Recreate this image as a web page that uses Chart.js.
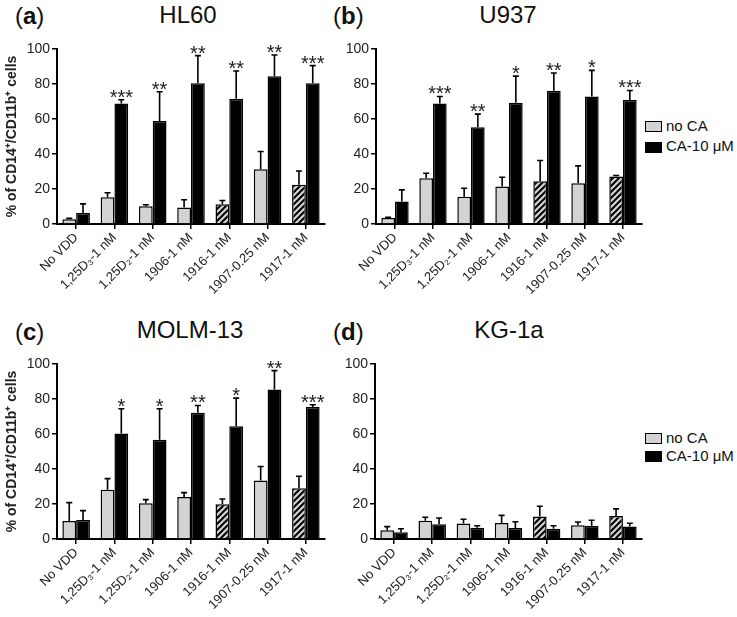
<!DOCTYPE html>
<html>
<head>
<meta charset="utf-8">
<script src="https://cdn.jsdelivr.net/npm/chart.js@4.4.1/dist/chart.umd.min.js"></script>
<style>
  body { margin: 0; width: 737px; height: 617px; overflow: hidden; background: #fff; font-family: "Liberation Sans", Arial, sans-serif; color: #111; }
  canvas { position: absolute; }
  .lbl { position: absolute; font-size: 24px; line-height: 24px; white-space: nowrap; }
  .ttl { position: absolute; font-size: 24px; line-height: 24px; width: 200px; text-align: center; }
  .box { position: absolute; width: 15px; height: 9px; border: 1.5px solid #000; }
  .leg { position: absolute; font-size: 15px; line-height: 16px; white-space: nowrap; }
</style>
</head>
<body>
<div class="lbl" style="left:15px;top:4px">(<b>a</b>)</div>
<div class="ttl" style="left:88px;top:3px">HL60</div>
<div class="lbl" style="left:333px;top:4px">(<b>b</b>)</div>
<div class="ttl" style="left:408px;top:3px">U937</div>
<div class="lbl" style="left:15px;top:320px">(<b>c</b>)</div>
<div class="ttl" style="left:90px;top:318px">MOLM-13</div>
<div class="lbl" style="left:333px;top:320px">(<b>d</b>)</div>
<div class="ttl" style="left:409px;top:318px">KG-1a</div>

<div class="box" style="left:645px;top:121px;background:#d3d3d3"></div>
<div class="leg" style="left:666px;top:118px">no CA</div>
<div class="box" style="left:645px;top:142px;background:#000"></div>
<div class="leg" style="left:666px;top:138px">CA-10 μM</div>
<div class="box" style="left:645px;top:433px;background:#d3d3d3"></div>
<div class="leg" style="left:666px;top:430px">no CA</div>
<div class="box" style="left:645px;top:451px;background:#000"></div>
<div class="leg" style="left:666px;top:448px">CA-10 μM</div>

<canvas id="cA" width="335" height="272" style="left:0;top:30px"></canvas>
<canvas id="cB" width="320" height="272" style="left:335px;top:30px"></canvas>
<canvas id="cC" width="335" height="272" style="left:0;top:345px"></canvas>
<canvas id="cD" width="320" height="272" style="left:335px;top:345px"></canvas>

<script>
// categories (x axis)
const categories = ['No VDD', '1,25D₃-1 nM', '1,25D₂-1 nM', '1906-1 nM', '1916-1 nM', '1907-0.25 nM', '1917-1 nM'];
const hatched = [false, false, false, false, true, false, true];
const yTicks = [0, 20, 40, 60, 80, 100];

// HL60
const hl60NoCA = [2.7, 15.3, 10.1, 9.5, 11.3, 31.3, 22.5];
const hl60NoCAErr = [0.5, 2.6, 0.9, 4.4, 2.1, 10.1, 7.8];
const hl60CA = [6.3, 68.9, 58.8, 80.5, 71.6, 84.5, 80.5];
const hl60CAErr = [5.2, 2.1, 16.8, 15.7, 15.8, 12.1, 10.0];
const hl60Stars = ['', '***', '**', '**', '**', '**', '***'];

// U937
const u937NoCA = [3.4, 26.1, 15.6, 21.4, 24.4, 23.3, 27.1];
const u937NoCAErr = [0.4, 2.9, 4.8, 5.3, 11.9, 9.9, 0.6];
const u937CA = [12.8, 68.9, 55.3, 69.3, 76.1, 72.9, 70.8];
const u937CAErr = [6.7, 4.0, 7.5, 15.2, 10.2, 14.9, 5.5];
const u937Stars = ['', '***', '**', '*', '**', '*', '***'];

// MOLM-13
const molmNoCA = [10.3, 28.2, 20.4, 24.0, 19.8, 33.4, 29.0];
const molmNoCAErr = [10.5, 6.3, 2.1, 2.5, 3.1, 8.0, 6.9];
const molmCA = [10.9, 60.3, 56.7, 72.1, 64.5, 85.5, 75.4];
const molmCAErr = [5.3, 14.1, 17.7, 4.2, 16.0, 10.7, 1.3];
const molmStars = ['', '*', '*', '**', '*', '**', '***'];

// KG-1a
const kgNoCA = [5.0, 10.5, 8.8, 9.2, 12.8, 7.8, 13.2];
const kgNoCAErr = [2.1, 1.9, 2.5, 4.3, 5.9, 1.9, 4.0];
const kgCA = [3.8, 8.4, 6.5, 6.3, 5.9, 7.6, 7.1];
const kgCAErr = [2.1, 3.6, 1.1, 3.6, 1.7, 3.1, 1.9];
const kgStars = ['', '', '', '', '', '', ''];

const GRAY = '#d3d3d3';

// hatch pattern for the 1916 / 1917 bars
function makeHatch() {
    const c = document.createElement('canvas');
    c.width = 6; c.height = 6;
    const g = c.getContext('2d');
    g.fillStyle = GRAY;
    g.fillRect(0, 0, 6, 6);
    g.strokeStyle = '#000';
    g.lineWidth = 2;
    g.beginPath();
    g.moveTo(-1, 7); g.lineTo(7, -1);
    g.moveTo(-4, 4); g.lineTo(4, -4);
    g.moveTo(2, 10); g.lineTo(10, 2);
    g.stroke();
    return g.createPattern(c, 'repeat');
}
const hatch = makeHatch();

// error bars (upper only) and significance stars
const errStarPlugin = {
    id: 'errStar',
    afterDatasetsDraw(chart) {
        const ctx = chart.ctx;
        const y = chart.scales.y;
        ctx.save();
        ctx.strokeStyle = '#000';
        ctx.lineWidth = 1.6;
        chart.data.datasets.forEach((ds, di) => {
            const meta = chart.getDatasetMeta(di);
            meta.data.forEach((bar, i) => {
                const top = y.getPixelForValue(ds.data[i] + ds.err[i]);
                ctx.beginPath();
                ctx.moveTo(bar.x, bar.y);
                ctx.lineTo(bar.x, top);
                ctx.moveTo(bar.x - 3, top);
                ctx.lineTo(bar.x + 3, top);
                ctx.stroke();
                if (ds.stars && ds.stars[i]) {
                    ctx.fillStyle = '#222';
                    ctx.font = '20px "Liberation Sans", Arial, sans-serif';
                    ctx.textAlign = 'center';
                    ctx.textBaseline = 'alphabetic';
                    ctx.fillText(ds.stars[i], bar.x, top + 4);
                }
            });
        });
        ctx.restore();
    }
};

function makeChart(id, noCA, noCAErr, ca, caErr, stars, yWidth, showTitle) {
    return new Chart(document.getElementById(id), {
        type: 'bar',
        data: {
            labels: categories,
            datasets: [{
                label: 'no CA',
                data: noCA,
                err: noCAErr,
                backgroundColor: hatched.map(h => h ? hatch : GRAY),
                borderColor: '#000',
                borderWidth: 1.5,
                borderSkipped: 'bottom',
                categoryPercentage: 0.72,
                barPercentage: 1.0
            }, {
                label: 'CA-10 μM',
                data: ca,
                err: caErr,
                stars: stars,
                backgroundColor: '#000',
                borderColor: '#000',
                borderWidth: 1.5,
                borderSkipped: 'bottom',
                categoryPercentage: 0.72,
                barPercentage: 1.0
            }]
        },
        options: {
            responsive: false,
            animation: false,
            layout: { padding: { top: 19, left: 0, right: id === 'cA' || id === 'cC' ? 10 : 13, bottom: 0 } },
            plugins: { legend: { display: false }, tooltip: { enabled: false } },
            scales: {
                x: {
                    grid: { display: true, drawOnChartArea: false, drawTicks: true, tickLength: 5, offset: false, color: '#000', lineWidth: 1.5 },
                    border: { color: '#000', width: 2 },
                    ticks: {
                        color: '#222', autoSkip: false, maxRotation: 45, minRotation: 45, padding: 1,
                        font: { family: '"Liberation Sans", Arial, sans-serif', size: 13 }
                    },
                    afterFit(scale) { scale.height = 78; }
                },
                y: {
                    min: 0, max: 100,
                    afterBuildTicks(scale) { scale.ticks = yTicks.map(v => ({ value: v })); },
                    grid: { display: true, drawOnChartArea: false, drawTicks: true, tickLength: 5, color: '#000', lineWidth: 1.5 },
                    border: { color: '#000', width: 2 },
                    ticks: {
                        color: '#222', padding: 2,
                        font: { family: '"Liberation Sans", Arial, sans-serif', size: 14 }
                    },
                    title: {
                        display: showTitle,
                        text: '% of CD14⁺/CD11b⁺ cells',
                        color: '#222',
                        padding: { top: 4, bottom: 0 },
                        font: { family: '"Liberation Sans", Arial, sans-serif', size: 14, weight: 'bold' }
                    },
                    afterFit(scale) { scale.width = yWidth; }
                }
            }
        },
        plugins: [errStarPlugin]
    });
}

makeChart('cA', hl60NoCA, hl60NoCAErr, hl60CA, hl60CAErr, hl60Stars, 57, true);
makeChart('cB', u937NoCA, u937NoCAErr, u937CA, u937CAErr, u937Stars, 41, false);
makeChart('cC', molmNoCA, molmNoCAErr, molmCA, molmCAErr, molmStars, 57, true);
makeChart('cD', kgNoCA, kgNoCAErr, kgCA, kgCAErr, kgStars, 40, false);
</script>
</body>
</html>
